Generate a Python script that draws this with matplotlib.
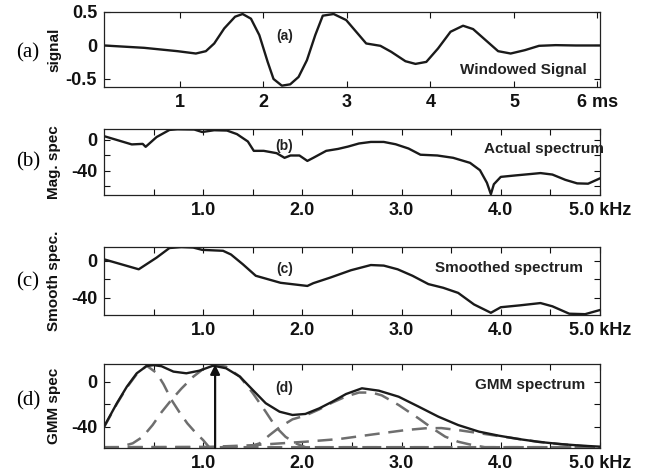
import matplotlib
matplotlib.use("Agg")
import matplotlib.pyplot as plt
from matplotlib.ticker import FixedLocator, FixedFormatter

plt.rcParams['font.family'] = ['Liberation Sans', 'DejaVu Sans']

# ---------------- data ----------------
# (a) windowed signal, time in ms
sig_t = [0.09, 0.57, 0.97, 1.19, 1.31, 1.41, 1.53, 1.66, 1.75, 1.85, 1.95, 2.05, 2.12,
         2.22, 2.32, 2.42, 2.52, 2.62, 2.71, 2.84, 2.99, 3.11, 3.23, 3.40, 3.53, 3.70,
         3.82, 3.95, 4.09, 4.24, 4.39, 4.51, 4.66, 4.81, 4.96, 5.13, 5.30, 5.50, 5.74, 6.03]
sig_v = [0, -0.035, -0.085, -0.12, -0.085, 0.03, 0.255, 0.43, 0.47, 0.40, 0.155, -0.245, -0.5,
         -0.6, -0.58, -0.47, -0.22, 0.155, 0.445, 0.47, 0.38, 0.205, 0.03, -0.005, -0.095, -0.235,
         -0.275, -0.245, -0.045, 0.205, 0.295, 0.245, 0.08, -0.085, -0.12, -0.07, -0.005, 0.005, 0, 0]

# (b) actual spectrum, kHz / dB
act_f = [0, 0.28, 0.39, 0.42, 0.53, 0.66, 0.74, 0.91, 0.99, 1.11, 1.24, 1.34, 1.45, 1.51, 1.61,
         1.74, 1.82, 1.88, 1.97, 2.05, 2.11, 2.24, 2.36, 2.46, 2.57, 2.69, 2.82, 2.94, 3.07,
         3.19, 3.36, 3.52, 3.69, 3.79, 3.86, 3.90, 3.93, 4.0, 4.15, 4.31, 4.40, 4.52, 4.65,
         4.77, 4.88, 5.0]
act_v = [5, -5.7, -5.0, -8.8, 3.8, 13.0, 13.8, 13.5, 10.3, 12.6, 12.2, 7.6, -1.9, -14, -14,
         -17, -23, -20, -20, -27, -23, -14, -11.5, -8.5, -4.5, -2.5, -2.5, -5.5, -11,
         -19, -20, -23, -29.5, -39, -55.2, -70, -57.1, -47.6, -45.7, -43.8, -42.7, -44.6,
         -51.4, -56, -56.4, -49.5]

# (c) smoothed spectrum
smo_f = [0, 0.35, 0.53, 0.66, 0.78, 0.90, 0.99, 1.20, 1.28, 1.40, 1.53, 1.78, 2.05, 2.11,
         2.28, 2.49, 2.69, 2.82, 2.96, 3.11, 3.27, 3.42, 3.57, 3.73, 3.90, 4.0, 4.19, 4.40,
         4.52, 4.69, 4.85, 5.0]
smo_v = [1.8, -9, 3.6, 14.0, 15.0, 14.5, 12, 11, 7, -3.6, -16, -23.6, -27, -24, -18, -10, -4.4,
         -5, -9, -16, -25, -29, -34.5, -47, -56, -50, -48, -45.5, -49, -57, -57.5, -53]

# (d) GMM spectrum (solid) and its Gaussian components (dashed)
gmm_f = [0, 0.13, 0.23, 0.33, 0.43, 0.50, 0.58, 0.70, 0.83, 0.96, 1.10, 1.23, 1.37, 1.50, 1.63,
         1.77, 1.90, 2.03, 2.17, 2.30, 2.44, 2.60, 2.77, 2.97, 3.17, 3.37, 3.57, 3.78, 3.98,
         4.18, 4.38, 4.60, 4.83, 5.0]
gmm_v = [-40, -19, -4.3, 7.7, 14.2, 15.0, 14.0, 9.2, 7.7, 10, 14.5, 12.2, 4.7, -7.2, -19,
         -26.6, -29.5, -28.6, -23.6, -17.7, -10.8, -5.7, -7.8, -13.2, -22, -31, -38.5, -44.4,
         -48, -51, -53.5, -55.5, -57, -57.8]

c1_f = [0, 0.13, 0.23, 0.33, 0.43, 0.53, 0.60, 0.68, 0.76, 0.84, 0.92, 1.0, 1.06, 5.0]
c1_v = [-40.5, -19.5, -5, 7, 14.5, 8, -2, -16, -27, -37, -45, -52, -58.3, -58.3]

c2_f = [0, 0.15, 0.29, 0.39, 0.49, 0.58, 0.68, 0.78, 0.90, 1.03, 1.12, 1.23, 1.37, 1.50,
        1.63, 1.73, 1.83, 1.93, 2.03, 5.0]
c2_v = [-58.3, -58.3, -54.8, -49, -38.5, -27, -16, -6, 4.7, 13.6, 15.0, 13.6, 4.7, -10,
        -26.6, -40, -49, -54.8, -58.3, -58.3]

c3_f = [0, 1.45, 1.57, 1.67, 1.77, 1.90, 2.03, 2.17, 2.30, 2.44, 2.57, 2.70, 2.80, 2.97,
        3.17, 3.31, 3.44, 3.57, 3.71, 3.84, 5.0]
c3_v = [-58.3, -58.3, -54.8, -47.4, -40.5, -33.4, -30, -24.5, -18.5, -13, -9.5, -9.5, -12,
        -20.6, -32.5, -41.4, -48.9, -53.4, -56.3, -58.3, -58.3]

c4_f = [0, 1.06, 1.5, 2.03, 2.37, 2.70, 3.04, 3.24, 3.40, 3.57, 3.84, 4.11, 4.38, 4.6, 4.83, 5.0]
c4_v = [-58.3, -58, -56.5, -53.4, -51, -47, -43, -41.4, -41.2, -43, -46.5, -50, -53.5, -55.5,
        -57.2, -58]

arrow_f = 1.12

panel_tags = ['(a)', '(b)', '(c)', '(d)']
inner_tags = ['(a)', '(b)', '(c)', '(d)']
titles = ['Windowed Signal', 'Actual spectrum', 'Smoothed spectrum', 'GMM spectrum']
ylabels = ['signal', 'Mag. spec', 'Smooth spec.', 'GMM spec']

ms_ticks = [1, 2, 3, 4, 5, 6]
ms_labels = ['1', '2', '3', '4', '5', '6 ms']
khz_ticks = [0.5, 1.0, 1.5, 2.0, 2.5, 3.0, 3.5, 4.0, 4.5, 5.0]
khz_labels = ['', '1.0', '', '2.0', '', '3.0', '', '4.0', '', '5.0 kHz']

# ---------------- figure ----------------
fig = plt.figure(figsize=(6.45, 4.73), dpi=100)
L, W = 104 / 645, 496 / 645
rects = [(87, 75), (195, 66), (315, 68), (448, 84)]
axes = []
for bot, h in rects:
    axes.append(fig.add_axes([L, 1 - bot / 473, W, h / 473]))

line_kw = dict(color='#1a1a1a', lw=1.7)
dash_kw = dict(color='#6e6e6e', lw=1.8, dashes=(6, 3.5))

def style(ax, xt, xl, yt, yl):
    ax.xaxis.set_major_locator(FixedLocator(xt))
    ax.xaxis.set_major_formatter(FixedFormatter(xl))
    ax.yaxis.set_major_locator(FixedLocator(yt))
    ax.yaxis.set_major_formatter(FixedFormatter(yl))
    ax.tick_params(direction='in', length=4, width=0.8, top=True, right=True,
                   labelsize=13, pad=5, colors='#111111')
    for lab in ax.get_xticklabels() + ax.get_yticklabels():
        lab.set_fontweight('bold')
    for s in ax.spines.values():
        s.set_linewidth(0.9)
        s.set_color('#222222')

# (a)
ax = axes[0]
ax.plot(sig_t, sig_v, **line_kw)
ax.set_xlim(0.09, 6.03)
ax.set_ylim(-0.62, 0.5)
style(ax, ms_ticks, ms_labels, [-0.5, 0, 0.5], ['-0.5', '0', '0.5'])

# (b)
ax = axes[1]
ax.plot(act_f, act_v, **line_kw)
ax.set_ylim(-71, 14.2)
style(ax, khz_ticks, khz_labels, [-60, -40, -20, 0], ['', '-40', '', '0'])

# (c)
ax = axes[2]
ax.plot(smo_f, smo_v, **line_kw)
ax.set_ylim(-58.4, 15.1)
style(ax, khz_ticks, khz_labels, [-40, -20, 0], ['-40', '', '0'])

# (d)
ax = axes[3]
for cf, cv in [(c4_f, c4_v), (c3_f, c3_v), (c2_f, c2_v), (c1_f, c1_v)]:
    ax.plot(cf, cv, **dash_kw)
ax.plot(gmm_f, gmm_v, **line_kw)
ax.set_ylim(-59, 16)
ax.annotate('', xy=(arrow_f, 15.5), xytext=(arrow_f, -59),
            arrowprops=dict(arrowstyle='-|>', color='#111111', lw=1.6,
                            mutation_scale=14, shrinkA=0, shrinkB=0))
style(ax, khz_ticks, khz_labels, [-40, -20, 0], ['-40', '', '0'])

for ax in axes[1:]:
    ax.set_xlim(0, 5.0)

inner_pos = [(0.364, 0.68), (0.364, 0.745), (0.364, 0.67), (0.364, 0.71)]
title_pos = [(0.846, 0.23), (0.888, 0.70), (0.817, 0.69), (0.86, 0.75)]
tag_y = [53, 162, 282, 401]
ylab_x = 54

for i, ax in enumerate(axes):
    ax.text(*inner_pos[i], inner_tags[i], transform=ax.transAxes, ha='center', va='center',
            fontsize=10, fontweight='bold', color='#222222')
    ax.text(*title_pos[i], titles[i], transform=ax.transAxes, ha='center', va='center',
            fontsize=11, fontweight='bold', color='#222222')
    fig.text(28 / 645, 1 - tag_y[i] / 473, panel_tags[i], ha='center', va='center',
             fontsize=15, family='Liberation Serif')
    bb = ax.get_position()
    fig.text(ylab_x / 645, (bb.y0 + bb.y1) / 2, ylabels[i], rotation=90, ha='center',
             va='center', fontsize=11, fontweight='bold', color='#111111')

fig.savefig('out.png', dpi=100, facecolor='white')
